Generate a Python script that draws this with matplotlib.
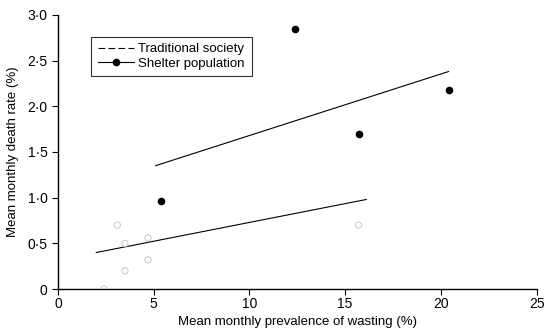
import matplotlib
matplotlib.use("Agg")
import matplotlib.pyplot as plt
from matplotlib.lines import Line2D

plt.rcParams['font.family'] = ['Liberation Sans', 'DejaVu Sans']

# shelter population points (filled)
shelter_x = [5.4, 12.4, 15.7, 20.4]
shelter_y = [0.96, 2.85, 1.70, 2.18]
# fitted line for shelters
shelter_fit_x = [5.1, 20.4]
shelter_fit_y = [1.35, 2.38]

# traditional society points (faint open circles)
trad_x = [2.4, 3.5, 3.5, 4.7, 4.7, 3.1, 15.7]
trad_y = [0.0, 0.20, 0.50, 0.32, 0.56, 0.70, 0.70]
trad_fit_x = [2.0, 16.1]
trad_fit_y = [0.40, 0.98]

xticks = [0, 5, 10, 15, 20, 25]
yticks = [0, 0.5, 1.0, 1.5, 2.0, 2.5, 3.0]
ylabels = ['0', '0·5', '1·0', '1·5', '2·0', '2·5', '3·0']

fig = plt.figure(figsize=(5.47, 3.30), dpi=100)
ax = fig.add_axes([0.106, 0.124, 0.875, 0.831])

ax.plot(shelter_fit_x, shelter_fit_y, color='black', lw=0.8)
ax.plot(trad_fit_x, trad_fit_y, color='black', lw=0.8)
ax.scatter(shelter_x, shelter_y, s=20, color='black', zorder=3)
ax.scatter(trad_x, trad_y, s=20, facecolors='none', edgecolors='#cccccc', lw=0.8, zorder=3)

ax.set_xlim(0, 25)
ax.set_ylim(0, 3.0)
ax.set_xticks(xticks)
ax.set_xticklabels([str(t) for t in xticks])
ax.set_yticks(yticks)
ax.set_yticklabels(ylabels)
ax.spines['top'].set_visible(False)
ax.spines['right'].set_visible(False)
ax.spines['left'].set_linewidth(1.0)
ax.spines['bottom'].set_linewidth(1.0)
ax.tick_params(axis='both', labelsize=10, length=4, width=0.8, direction='out')
ax.tick_params(axis='x', pad=2)
ax.set_xlabel('Mean monthly prevalence of wasting (%)', fontsize=9.5, labelpad=3)
ax.set_ylabel('Mean monthly death rate (%)', fontsize=9.5, labelpad=6)

handles = [
    Line2D([], [], color='black', lw=0.8, ls=(0, (6, 3))),
    Line2D([], [], color='black', lw=0.8, marker='o', ms=4.5),
]
leg = ax.legend(handles, ['Traditional society', 'Shelter population'],
                loc='upper left', bbox_to_anchor=(0.055, 0.945), fontsize=9.5,
                frameon=True, fancybox=False, edgecolor='black',
                handlelength=2.8, handletextpad=0.3, borderpad=0.5, labelspacing=0.15)
leg.get_frame().set_linewidth(0.8)

fig.savefig('out.png', dpi=100)
